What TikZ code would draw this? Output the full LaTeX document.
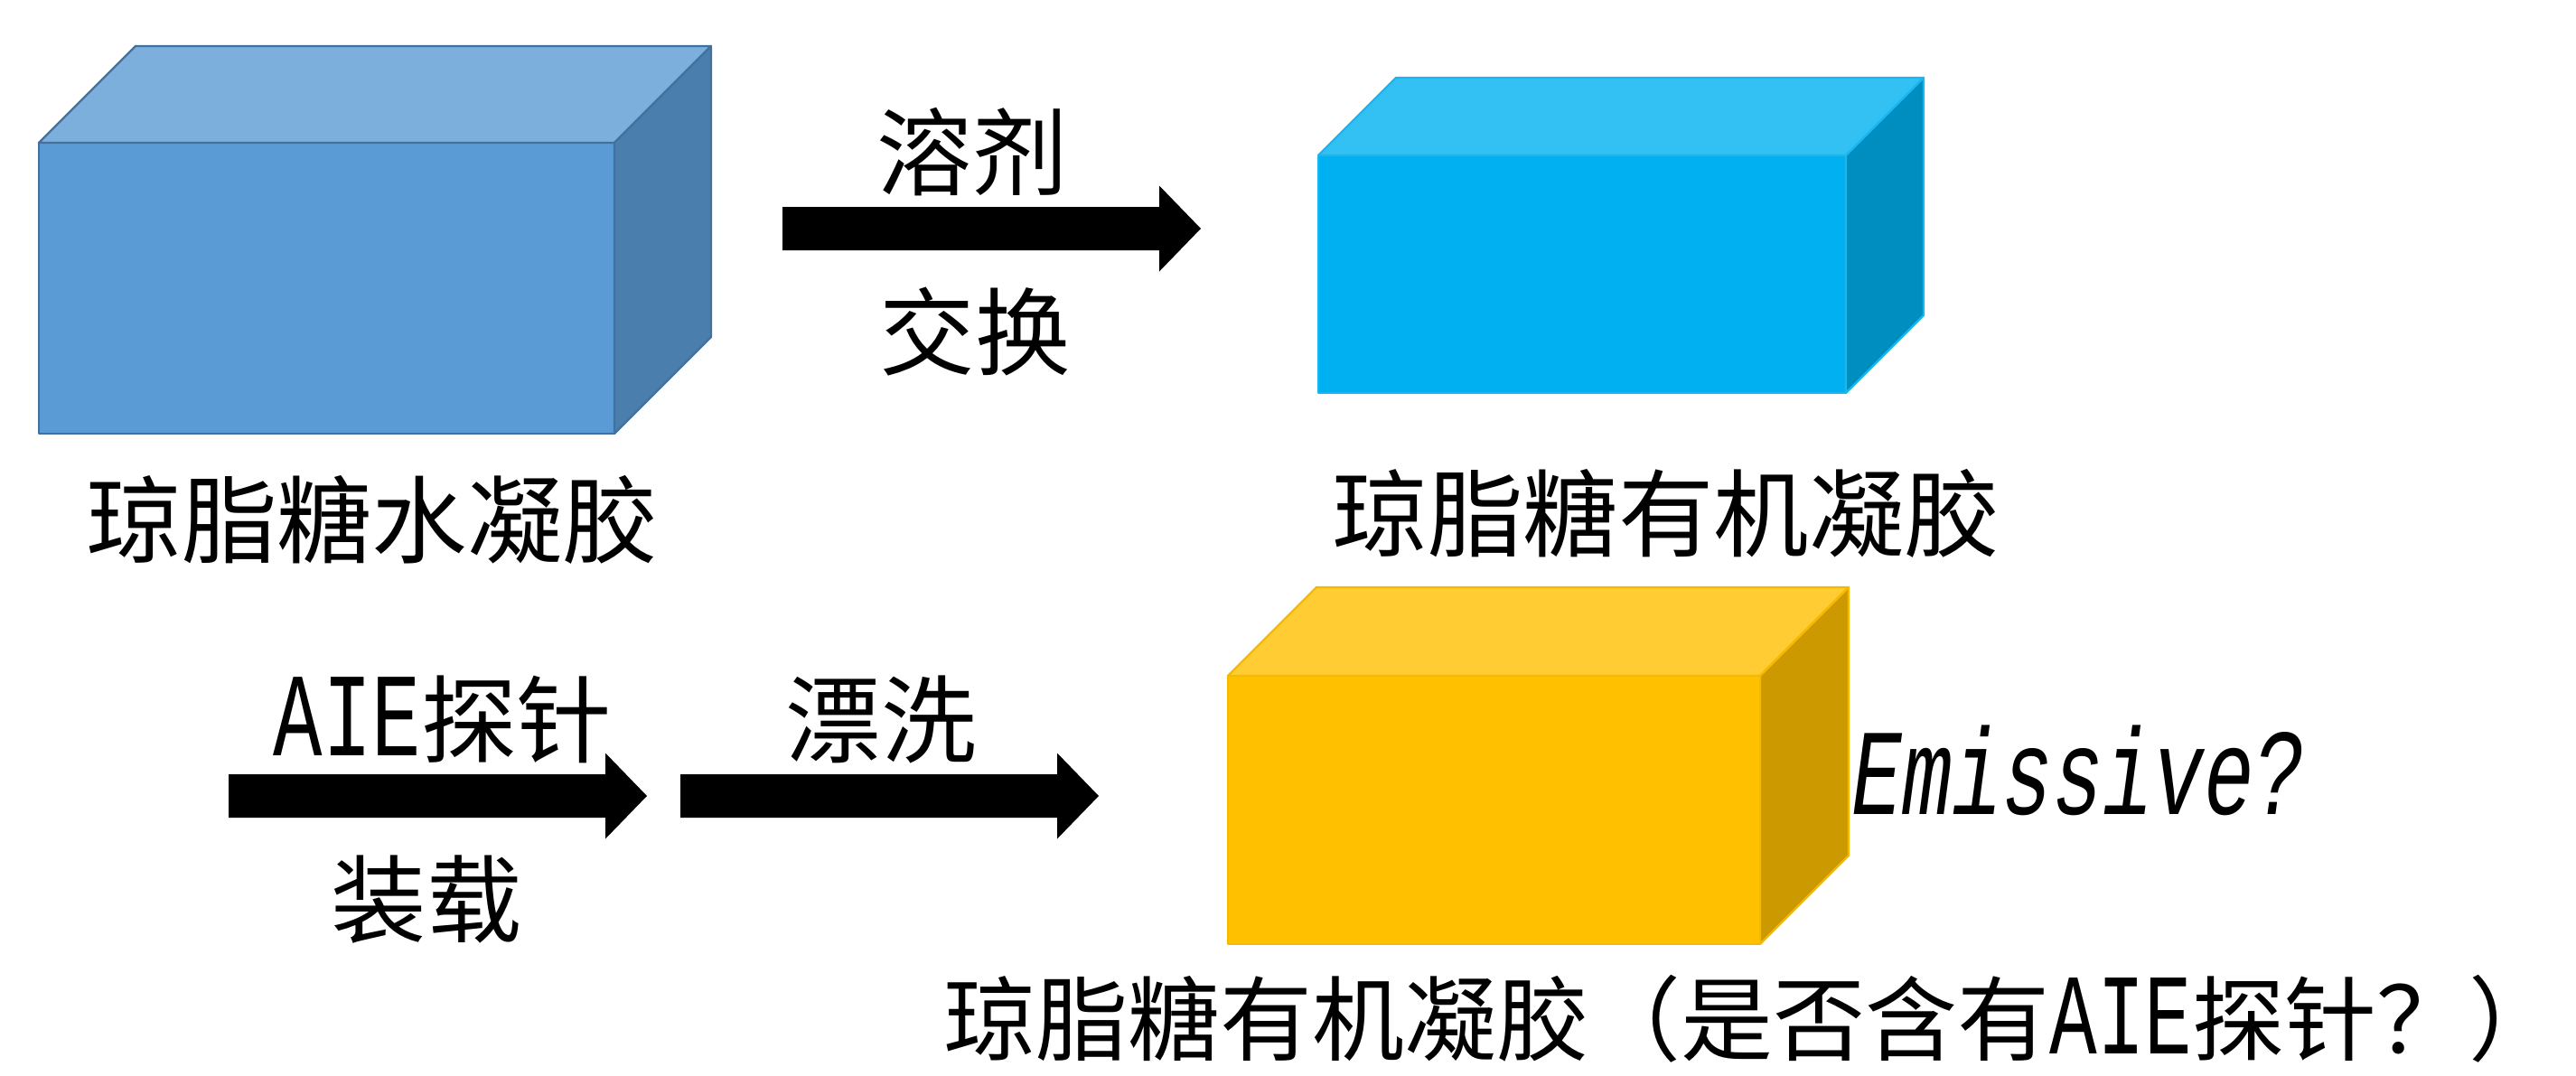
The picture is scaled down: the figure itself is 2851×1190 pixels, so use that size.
\documentclass[tikz,border=0pt]{standalone}
\usepackage{fontspec}
\usepackage{graphicx}
\usetikzlibrary{calc}
\newfontfamily\cjk{Noto Sans CJK SC}
\newfontfamily\cjkhalt[RawFeature=+halt]{Noto Sans CJK SC}
\newfontfamily\latf{Liberation Mono}
\definecolor{bAF}{HTML}{5B9BD5}
\definecolor{bAT}{HTML}{7DAFDD}
\definecolor{bAS}{HTML}{4A7EAC}
\definecolor{bAL}{HTML}{41719C}
\definecolor{bBF}{HTML}{00B0F0}
\definecolor{bBT}{HTML}{33C0F3}
\definecolor{bBS}{HTML}{008DC0}
\definecolor{bBL}{HTML}{1AB6F0}
\definecolor{bCF}{HTML}{FFC000}
\definecolor{bCT}{HTML}{FFCD33}
\definecolor{bCS}{HTML}{CC9A00}
\definecolor{bCL}{HTML}{F5BA00}
\newcommand\AIE{\scalebox{0.86}[1.25]{\latf AIE}}
\tikzset{
  face/.style={line width=0.022cm, line join=round},
  lbl/.style={inner sep=0pt, anchor=base, font=\cjk\fontsize{30pt}{36pt}\selectfont},
  blockarrow/.style={fill=black}
}
% #1 x0, #2 y0 (top), #3 x1, #4 y1 (bottom), #5 depth, #6 colour prefix
\newcommand\cuboid[6]{%
  \filldraw[face, draw=#6L, fill=#6F] (#1,#2) rectangle (#3,#4);
  \filldraw[face, draw=#6L, fill=#6T] (#1,#2) -- ({#1+#5},{#2-#5}) -- ({#3+#5},{#2-#5}) -- (#3,#2) -- cycle;
  \filldraw[face, draw=#6L, fill=#6S] (#3,#2) -- ({#3+#5},{#2-#5}) -- ({#3+#5},{#4-#5}) -- (#3,#4) -- cycle;
}
% block arrow from coordinate #1 to tip coordinate #2
\newcommand\barrow[2]{%
  \fill[blockarrow] ($(#1)+(0,-24)$) -| ($(#2)+(-46,-47.5)$) -- (#2) -- ($(#2)+(-46,47.5)$) |- ($(#1)+(0,24)$) -- cycle;
}
\begin{document}
\begin{tikzpicture}[x=0.01cm, y=-0.01cm]
\useasboundingbox (0,0) rectangle (2851,1190);
% gels
\cuboid{43}{158}{680}{480}{107}{bA}
\cuboid{1459}{172}{2043}{435}{86}{bB}
\cuboid{1359}{748}{1948}{1045}{98}{bC}
% arrows
\coordinate (a1s) at (866,253);  \coordinate (a1e) at (1329,253);
\coordinate (a2s) at (253,881);  \coordinate (a2e) at (716,881);
\coordinate (a3s) at (753,881);  \coordinate (a3e) at (1216,881);
\barrow{a1s}{a1e}
\barrow{a2s}{a2e}
\barrow{a3s}{a3e}
% labels
\node[lbl] (t1) at (1076,208) {溶剂};
\node[lbl] (t2) at (1079,407) {交换};
\node[lbl] (g1) at (412,615) {琼脂糖水凝胶};
\node[lbl] (g2) at (1844,608) {琼脂糖有机凝胶};
\node[lbl] (t3) at (490,836) {\AIE 探针};
\node[lbl] (t4) at (472,1035) {装载};
\node[lbl] (t5) at (975,836) {漂洗};
\node[lbl] (em) at (2300,901) {\scalebox{0.88}[1.29]{\latf\itshape Emissive?}};
\node[lbl, anchor=base west, font=\cjk\fontsize{29pt}{35pt}\selectfont] (g3) at (1044,1166) {琼脂糖有机凝胶（是否含有\AIE 探针？{\cjkhalt ）}};
\end{tikzpicture}
\end{document}
